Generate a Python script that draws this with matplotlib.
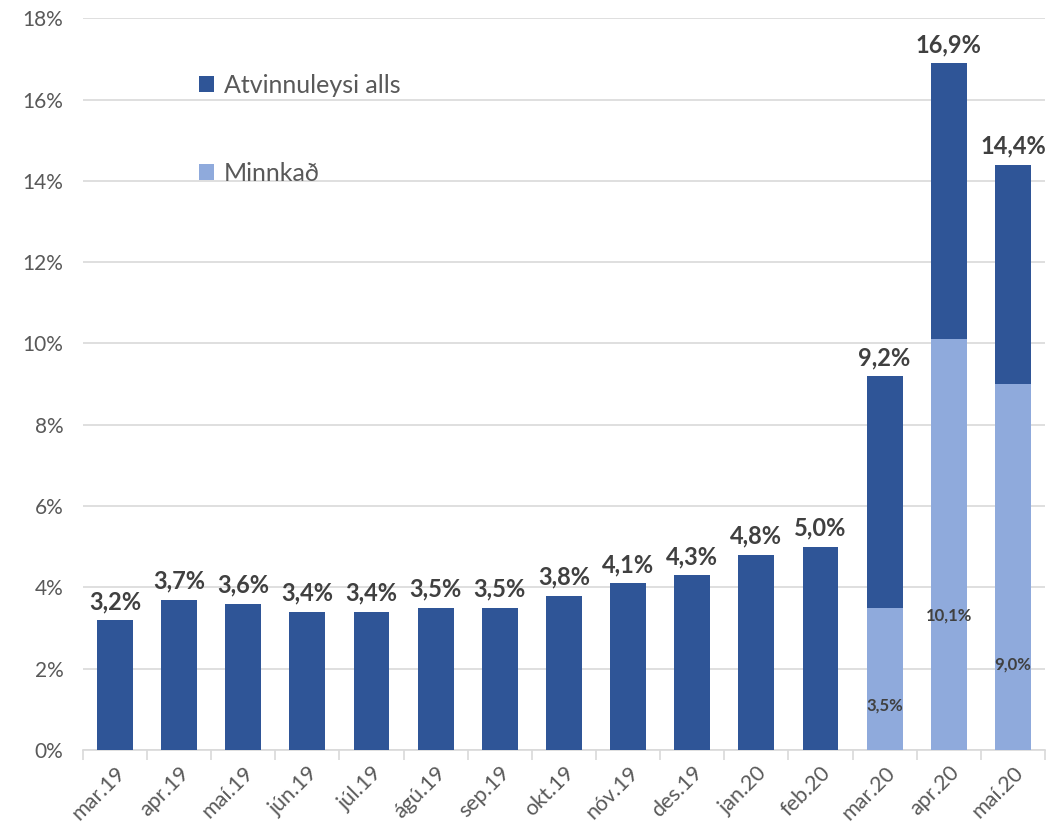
import numpy as np
import matplotlib.pyplot as plt

months = ["mar.19", "apr.19", "maí.19", "jún.19", "júl.19", "ágú.19", "sep.19",
          "okt.19", "nóv.19", "des.19", "jan.20", "feb.20", "mar.20", "apr.20", "maí.20"]
total = [3.2, 3.7, 3.6, 3.4, 3.4, 3.5, 3.5, 3.8, 4.1, 4.3, 4.8, 5.0, 9.2, 16.9, 14.4]
minnkad = [0, 0, 0, 0, 0, 0, 0, 0, 0, 0, 0, 0, 3.5, 10.1, 9.0]
# where the small labels sit inside the light bars (data units)
minnkad_label_y = [None] * 12 + [1.1, 3.3, 2.1]

DARK = "#2F5597"
LIGHT = "#8FAADC"
GREY = "#595959"
plt.rcParams['font.family'] = ['Lato', 'DejaVu Sans']

fig = plt.figure(figsize=(10.63, 8.31), dpi=100)
ax = fig.add_axes([0.078, 0.0975, 0.905, 0.8805])

x = np.arange(len(months))
tot = np.array(total)
light = np.array(minnkad)
dark = tot - light
w = 0.56

ax.bar(x, light, w, color=LIGHT, zorder=3, label="Minnkað")
ax.bar(x, dark, w, bottom=light, color=DARK, zorder=3, label="Atvinnuleysi alls")

for xi, t in zip(x, total):
    ax.annotate(f"{t:.1f}%".replace(".", ","), (xi, t), xytext=(0, 5),
                textcoords="offset points", ha="center", va="bottom",
                fontsize=17, fontweight="bold", color="#404040")
for xi, v, ly in zip(x, minnkad, minnkad_label_y):
    if v > 0:
        ax.text(xi, ly, f"{v:.1f}%".replace(".", ","), ha="center", va="center",
                fontsize=12, fontweight="bold", color="#404040", zorder=4)

ax.set_xlim(-0.5, len(months) - 0.5)
ax.set_ylim(0, 18)
ax.set_yticks(np.arange(0, 19, 2))
ax.set_yticklabels([f"{v}%" for v in range(0, 19, 2)], fontsize=15, color=GREY)
ax.yaxis.grid(True, color="#d9d9d9", linewidth=1.2, zorder=0)
ax.tick_params(axis="y", length=0, pad=14)

ax.set_xticks(x)
ax.set_xticklabels(months, rotation=45, ha="right", rotation_mode="anchor",
                   fontsize=15.5, color=GREY)
ax.set_xticks(np.arange(-0.5, len(months)), minor=True)
ax.tick_params(axis="x", which="major", length=0, pad=9)
ax.tick_params(axis="x", which="minor", length=7, color="#d9d9d9", width=1.2)

for s in ["top", "right", "left"]:
    ax.spines[s].set_visible(False)
ax.spines["bottom"].set_color("#d9d9d9")
ax.spines["bottom"].set_linewidth(1.2)

h, l = ax.get_legend_handles_labels()
ax.legend(h[::-1], l[::-1], loc="upper left", bbox_to_anchor=(0.097, 0.955),
          frameon=False, fontsize=18, labelcolor=GREY, handlelength=0.6,
          handleheight=0.6, handletextpad=0.4, labelspacing=2.6)

fig.savefig("out.png", dpi=100)
